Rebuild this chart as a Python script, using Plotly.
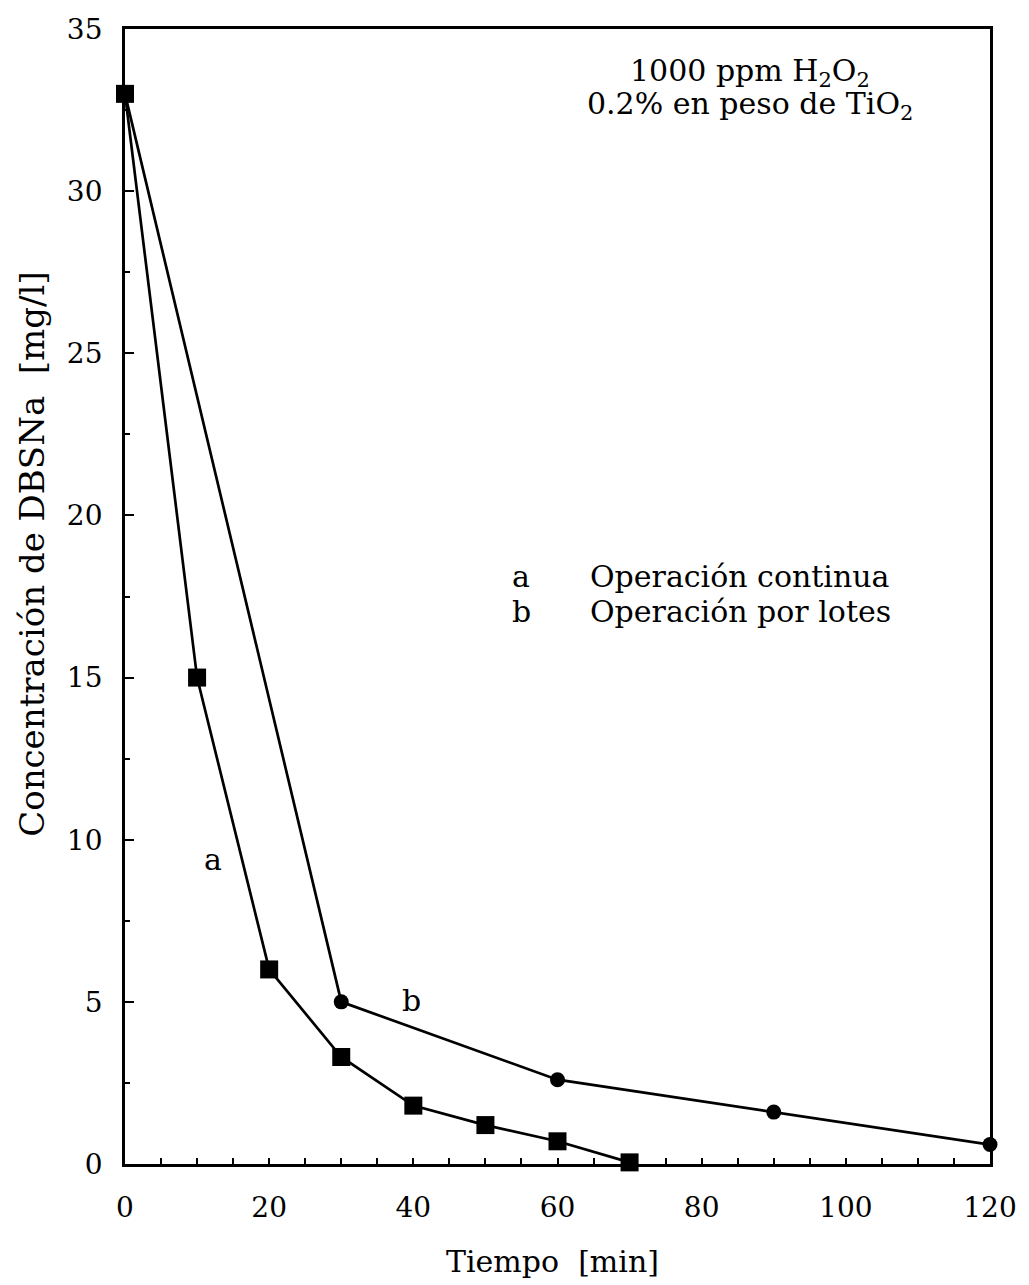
import plotly.graph_objects as go

# Concentración de DBSNa frente al tiempo
t_continua = [0, 10, 20, 30, 40, 50, 60, 70]
c_continua = [33.0, 15.0, 6.0, 3.3, 1.8, 1.2, 0.7, 0.05]

t_lotes = [0, 30, 60, 90, 120]
c_lotes = [33.0, 5.0, 2.6, 1.6, 0.6]

x_ticks = [0, 20, 40, 60, 80, 100, 120]
y_ticks = [0, 5, 10, 15, 20, 25, 30, 35]

FONT = "DejaVu Serif"
FS = 30

fig = go.Figure()

fig.add_trace(go.Scatter(
    x=t_lotes, y=c_lotes, mode="lines+markers",
    line=dict(color="black", width=2.7),
    marker=dict(symbol="circle", size=15, color="black"),
    cliponaxis=False, showlegend=False,
))
fig.add_trace(go.Scatter(
    x=t_continua, y=c_continua, mode="lines+markers",
    line=dict(color="black", width=2.7),
    marker=dict(symbol="square", size=18, color="black"),
    cliponaxis=False, showlegend=False,
))

ann_font = dict(family=FONT, size=FS, color="black")


def note(x, y, text, xanchor="center", size=FS, **kw):
    return dict(x=x, y=y, xref="x", yref="y", text=text, showarrow=False,
                xanchor=xanchor, yanchor="middle",
                font=dict(family=FONT, size=size, color="black"), **kw)


annotations = [
    note(12.2, 9.4, "a"),
    note(39.8, 5.05, "b"),
    note(55.0, 18.13, "a"),
    note(55.0, 17.05, "b"),
    note(64.2, 18.13, "Operación continua", xanchor="left"),
    note(64.2, 17.05, "Operación por lotes", xanchor="left"),
    note(86.7, 33.66, "1000 ppm H<sub>2</sub>O<sub>2</sub>"),
    note(86.7, 32.64, "0.2% en peso de TiO<sub>2</sub>"),
    # axis titles
    dict(x=0.494, y=-0.0863, xref="paper", yref="paper", text="Tiempo  [min]",
         xanchor="center", yanchor="middle", showarrow=False, font=ann_font),
    dict(x=-0.1078, y=0.5374, xref="paper", yref="paper",
         text="Concentración de DBSNa  [mg/l]", textangle=-90,
         xanchor="center", yanchor="middle", showarrow=False,
         font=dict(family=FONT, size=34, color="black")),
]

fig.update_layout(
    width=1029, height=1285,
    margin=dict(l=125, r=32, t=29, b=121),
    paper_bgcolor="white", plot_bgcolor="white",
    font=dict(family=FONT, size=28, color="black"),
    annotations=annotations,
    xaxis=dict(
        range=[0, 120], tickvals=x_ticks, ticks="inside", ticklen=6, tickwidth=2,
        tickcolor="black", showgrid=False, zeroline=False,
        showline=True, linecolor="black", linewidth=2.8, mirror=True,
        minor=dict(dtick=5, ticks="inside", ticklen=6, tickwidth=2, tickcolor="black", showgrid=False),
        ticklabelstandoff=16,
    ),
    yaxis=dict(
        range=[0, 35], tickvals=y_ticks, ticks="inside", ticklen=9, tickwidth=2,
        tickcolor="black", showgrid=False, zeroline=False,
        showline=True, linecolor="black", linewidth=2.8, mirror=True,
        minor=dict(dtick=2.5, ticks="inside", ticklen=5, tickwidth=2, tickcolor="black", showgrid=False),
        ticklabelstandoff=14,
    ),
)

fig.write_html("out.html")
